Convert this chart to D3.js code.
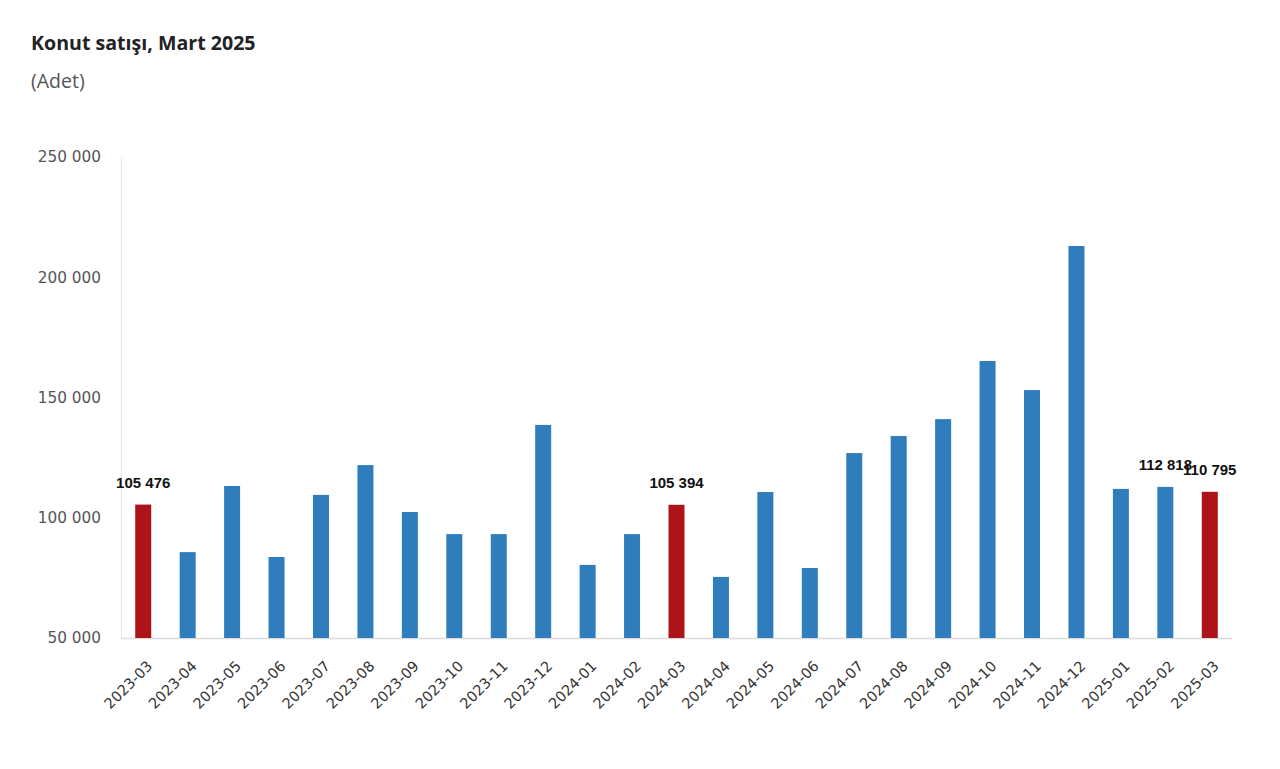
<!DOCTYPE html>
<html><head><meta charset="utf-8">
<script src="https://cdn.jsdelivr.net/npm/d3@7"></script>
<style>body{margin:0;background:#fff}svg{display:block}</style>
</head><body>
<svg id="c" width="1280" height="769"></svg>
<script>
const categories = ["2023-03","2023-04","2023-05","2023-06","2023-07","2023-08","2023-09","2023-10","2023-11","2023-12","2024-01","2024-02","2024-03","2024-04","2024-05","2024-06","2024-07","2024-08","2024-09","2024-10","2024-11","2024-12","2025-01","2025-02","2025-03"];
const values = [105476,85700,113200,83700,109500,121900,102400,93200,93200,138600,80400,93200,105394,75400,110700,79100,126900,134000,141000,165200,153100,213000,112000,112818,110795];
const highlighted = ["2023-03","2024-03","2025-03"];
const labelled = ["2023-03","2024-03","2025-02","2025-03"];
const yTicks = [50000,100000,150000,200000,250000];

const svg = d3.select("#c");
const x = d3.scaleBand().domain(categories).range([121,1232]).paddingInner(0.64).paddingOuter(0.32);
const y = d3.scaleLinear().domain([50000,250000]).range([638,157]);
const fmt = v => d3.format(",")(v).replace(/,/g," ");

svg.append("text").attr("x",31).attr("y",50).text("Konut satışı, Mart 2025")
  .style("font-family","'Open Sans', sans-serif").style("font-weight","bold").style("font-size","19.6px").attr("fill","#222");
svg.append("text").attr("x",31).attr("y",88).text("(Adet)")
  .style("font-family","'Open Sans', sans-serif").style("font-size","19.5px").attr("fill","#555");

// y axis
const ya = svg.append("g").attr("transform","translate(121,0)").call(d3.axisLeft(y).tickValues(yTicks).tickFormat(fmt).tickSize(0).tickPadding(20));
ya.select(".domain").attr("stroke","#e6e6e6");
ya.selectAll("text").style("font-family","'DejaVu Sans', sans-serif").style("font-size","15.3px").attr("fill","#555");

// x axis
const xa = svg.append("g").attr("transform","translate(0,638)").call(d3.axisBottom(x).tickSize(0).tickPadding(0));
xa.select(".domain").attr("stroke","#dcdcdc").attr("stroke-width",1.5);
xa.selectAll("text").style("font-family","'DejaVu Sans', sans-serif").style("font-size","14.5px").attr("fill","#333")
  .attr("text-anchor","end").attr("dy",0).attr("transform","translate(10,29) rotate(-45)");

// bars
svg.append("g").selectAll("rect").data(categories).join("rect")
  .attr("x",d=>x(d)).attr("width",x.bandwidth())
  .attr("y",(d,i)=>y(values[i])).attr("height",(d,i)=>y(50000)-y(values[i]))
  .attr("fill",d=>highlighted.includes(d)?"#ad1419":"#2f7dbd");

// labels
svg.append("g").selectAll("text").data(categories.filter(d=>labelled.includes(d))).join("text")
  .attr("x",d=>x(d)+x.bandwidth()/2).attr("y",d=>y(values[categories.indexOf(d)])-17)
  .attr("text-anchor","middle").text(d=>fmt(values[categories.indexOf(d)]))
  .style("font-family","'Liberation Sans', Arial, sans-serif").style("font-weight","bold").style("font-size","15px").attr("fill","#111");
</script>
</body></html>
